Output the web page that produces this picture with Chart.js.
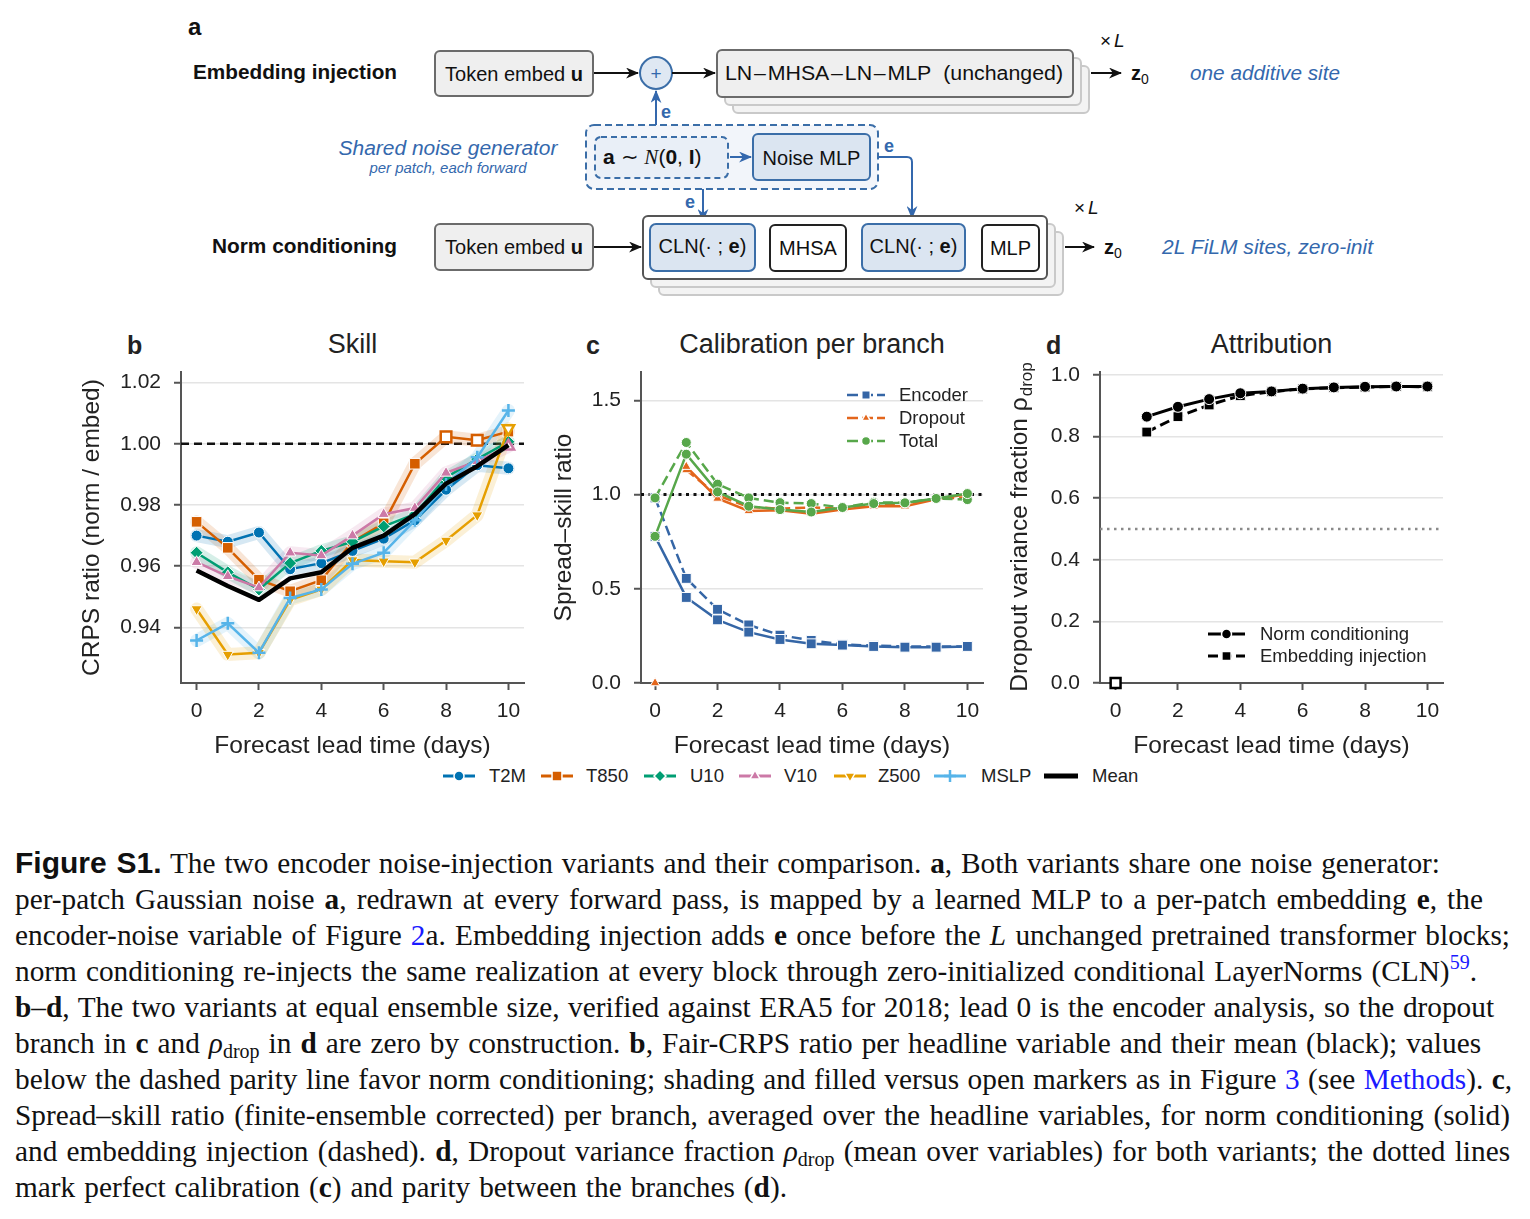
<!DOCTYPE html>
<html>
<head>
<meta charset="utf-8">
<script src="https://cdn.jsdelivr.net/npm/chart.js@4/dist/chart.umd.min.js"></script>
<style>
  body { margin: 0; background: #fff; }
  #page { position: relative; width: 1530px; height: 1219px; overflow: hidden; font-family: "Liberation Sans", Arial, sans-serif; color: #222; }
  canvas.chart { position: absolute; }
  .ptitle { position: absolute; font-size: 27px; line-height: 30px; text-align: center; color: #222; }
  .pletter { position: absolute; font-size: 25px; font-weight: bold; line-height: 30px; color: #222; }
  .leg { position: absolute; font-size: 18.5px; line-height: 20px; color: #222; white-space: nowrap; }
  .leg canvas { position: absolute; }
  .leg span { position: absolute; white-space: nowrap; }
  #caption { position: absolute; left: 15px; top: 845px; font-family: "Liberation Serif", "Times New Roman", serif; font-size: 29.3px; line-height: 36px; color: #111; white-space: nowrap; }
  #caption > div { width: max-content; }
  #caption .fig { font-family: "Liberation Sans", Arial, sans-serif; font-weight: bold; font-size: 30px; }
  #caption .lnk { color: #1a1aff; }
  #caption sub { font-size: 20px; vertical-align: -5px; line-height: 0; }
  #caption sup { font-size: 20px; vertical-align: 12px; line-height: 0; }
</style>
</head>
<body>
<div id="page">

<svg width="1530" height="310" style="position:absolute;left:0;top:0" font-family="Liberation Sans, Arial, sans-serif">
  <defs>
    <marker id="ak" viewBox="0 0 12 10" refX="11" refY="5" markerWidth="13" markerHeight="11" markerUnits="userSpaceOnUse" orient="auto"><path d="M0,0 L12,5 L0,10 L3.5,5 z" fill="#111"/></marker>
    <marker id="ab" viewBox="0 0 12 10" refX="11" refY="5" markerWidth="13" markerHeight="11" markerUnits="userSpaceOnUse" orient="auto"><path d="M0,0 L12,5 L0,10 L3.5,5 z" fill="#3468ad"/></marker>
  </defs>
  <text x="188" y="35" font-size="24" font-weight="bold" fill="#111">a</text>

  <!-- row 1 -->
  <text x="193" y="79" font-size="20" font-weight="bold" fill="#111" textLength="204" lengthAdjust="spacingAndGlyphs">Embedding injection</text>
  <rect x="435" y="51" width="158" height="45" rx="5" fill="#efefef" stroke="#6b6b6b" stroke-width="2"/>
  <text x="514" y="81" font-size="20" text-anchor="middle" fill="#111">Token embed <tspan font-weight="bold">u</tspan></text>
  <line x1="594" y1="73" x2="638" y2="73" stroke="#111" stroke-width="2" marker-end="url(#ak)"/>
  <circle cx="656" cy="73" r="16" fill="#dfe8f3" stroke="#3b6ea8" stroke-width="2"/>
  <text x="656" y="80" font-size="19" text-anchor="middle" fill="#3468ad">+</text>
  <line x1="672" y1="73" x2="715" y2="73" stroke="#111" stroke-width="2" marker-end="url(#ak)"/>
  <rect x="733" y="66" width="356" height="47" rx="5" fill="#f3f3f3" stroke="#c9c9c9" stroke-width="2"/>
  <rect x="725" y="58" width="356" height="47" rx="5" fill="#f3f3f3" stroke="#c9c9c9" stroke-width="2"/>
  <rect x="717" y="50" width="356" height="47" rx="5" fill="#efefef" stroke="#6b6b6b" stroke-width="2"/>
  <text x="725" y="80" font-size="20" fill="#111" textLength="338" lengthAdjust="spacingAndGlyphs">LN&#8202;–&#8202;MHSA&#8202;–&#8202;LN&#8202;–&#8202;MLP&#160;&#160;(unchanged)</text>
  <text x="1100" y="47" font-size="19" fill="#111">×<tspan font-style="italic" dx="3">L</tspan></text>
  <line x1="1091" y1="73" x2="1121" y2="73" stroke="#111" stroke-width="2" marker-end="url(#ak)"/>
  <text x="1131" y="80" font-size="20" font-weight="bold" fill="#111">z<tspan font-size="14" font-weight="normal" dy="4">0</tspan></text>
  <text x="1190" y="80" font-size="20" font-style="italic" fill="#3468ad" textLength="150" lengthAdjust="spacingAndGlyphs">one additive site</text>

  <!-- noise generator -->
  <rect x="586" y="125" width="292" height="64" rx="8" fill="#f2f5fa" stroke="#3b6ea8" stroke-width="2" stroke-dasharray="7 4"/>
  <rect x="595" y="137" width="133" height="41" rx="6" fill="#e9eff7" stroke="#3b6ea8" stroke-width="2" stroke-dasharray="6 4"/>
  <text x="603" y="164" font-size="21" fill="#111"><tspan font-weight="bold">a</tspan> ∼ <tspan font-family="Liberation Serif, serif" font-style="italic">N</tspan>(<tspan font-weight="bold">0</tspan>, <tspan font-weight="bold">I</tspan>)</text>
  <line x1="730" y1="157" x2="751" y2="157" stroke="#3468ad" stroke-width="2" marker-end="url(#ab)"/>
  <rect x="753" y="134" width="117" height="46" rx="5" fill="#dbe5f1" stroke="#3b6ea8" stroke-width="2"/>
  <text x="811.5" y="165" font-size="20" text-anchor="middle" fill="#111">Noise MLP</text>
  <text x="884" y="152" font-size="18" font-weight="bold" fill="#3468ad">e</text>
  <path d="M878 157 H907 Q912 157 912 162 V218" fill="none" stroke="#3468ad" stroke-width="2" marker-end="url(#ab)"/>
  <line x1="656" y1="125" x2="656" y2="91" stroke="#3468ad" stroke-width="2" marker-end="url(#ab)"/>
  <text x="661" y="118" font-size="18" font-weight="bold" fill="#3468ad">e</text>
  <line x1="703" y1="189" x2="703" y2="221" stroke="#3468ad" stroke-width="2" marker-end="url(#ab)"/>
  <text x="685" y="208" font-size="18" font-weight="bold" fill="#3468ad">e</text>
  <text x="448" y="155" font-size="20" font-style="italic" text-anchor="middle" fill="#3468ad" textLength="219" lengthAdjust="spacingAndGlyphs">Shared noise generator</text>
  <text x="448" y="173" font-size="14" font-style="italic" text-anchor="middle" fill="#3468ad" textLength="157" lengthAdjust="spacingAndGlyphs">per patch, each forward</text>

  <!-- row 2 -->
  <text x="212" y="253" font-size="20" font-weight="bold" fill="#111" textLength="185" lengthAdjust="spacingAndGlyphs">Norm conditioning</text>
  <rect x="435" y="224" width="158" height="46" rx="5" fill="#efefef" stroke="#6b6b6b" stroke-width="2"/>
  <text x="514" y="254" font-size="20" text-anchor="middle" fill="#111">Token embed <tspan font-weight="bold">u</tspan></text>
  <line x1="594" y1="247" x2="641" y2="247" stroke="#111" stroke-width="2" marker-end="url(#ak)"/>
  <rect x="659" y="232" width="404" height="63" rx="5" fill="#f3f3f3" stroke="#c9c9c9" stroke-width="2"/>
  <rect x="651" y="224" width="404" height="63" rx="5" fill="#f3f3f3" stroke="#c9c9c9" stroke-width="2"/>
  <rect x="643" y="216" width="404" height="63" rx="5" fill="#fff" stroke="#555" stroke-width="2"/>
  <rect x="650" y="224" width="105" height="47" rx="6" fill="#dbe5f1" stroke="#3b6ea8" stroke-width="2"/>
  <text x="702.5" y="253" font-size="20" text-anchor="middle" fill="#111">CLN(· ; <tspan font-weight="bold">e</tspan>)</text>
  <rect x="770" y="225" width="76" height="46" rx="5" fill="#fff" stroke="#222" stroke-width="2"/>
  <text x="808" y="255" font-size="20" text-anchor="middle" fill="#111">MHSA</text>
  <rect x="862" y="224" width="103" height="47" rx="6" fill="#dbe5f1" stroke="#3b6ea8" stroke-width="2"/>
  <text x="913.5" y="253" font-size="20" text-anchor="middle" fill="#111">CLN(· ; <tspan font-weight="bold">e</tspan>)</text>
  <rect x="982" y="225" width="57" height="46" rx="5" fill="#fff" stroke="#222" stroke-width="2"/>
  <text x="1010.5" y="255" font-size="20" text-anchor="middle" fill="#111">MLP</text>
  <text x="1074" y="214" font-size="19" fill="#111">×<tspan font-style="italic" dx="3">L</tspan></text>
  <line x1="1065" y1="247" x2="1094" y2="247" stroke="#111" stroke-width="2" marker-end="url(#ak)"/>
  <text x="1104" y="254" font-size="20" font-weight="bold" fill="#111">z<tspan font-size="14" font-weight="normal" dy="4">0</tspan></text>
  <text x="1162" y="254" font-size="20" font-style="italic" fill="#3468ad" textLength="211" lengthAdjust="spacingAndGlyphs">2L FiLM sites, zero-init</text>
</svg>

<div class="pletter" style="left:127px;top:330px">b</div>
<div class="pletter" style="left:586px;top:330px">c</div>
<div class="pletter" style="left:1046px;top:330px">d</div>
<div class="ptitle" style="left:181px;width:343px;top:329px">Skill</div>
<div class="ptitle" style="left:641px;width:342px;top:329px">Calibration per branch</div>
<div class="ptitle" style="left:1100px;width:343px;top:329px">Attribution</div>

<canvas id="skill_chart" class="chart" width="475" height="410" style="left:60px;top:355px"></canvas>
<canvas id="calib_chart" class="chart" width="460" height="410" style="left:535px;top:355px"></canvas>
<canvas id="attr_chart" class="chart" width="460" height="410" style="left:995px;top:355px"></canvas>

<div id="legends"></div>

<div id="caption">
<div><span class="fig">Figure S1.</span> The two encoder noise-injection variants and their comparison. <b>a</b>, Both variants share one noise generator:</div>
<div>per-patch Gaussian noise <b>a</b>, redrawn at every forward pass, is mapped by a learned MLP to a per-patch embedding <b>e</b>, the</div>
<div>encoder-noise variable of Figure <span class="lnk">2</span>a. Embedding injection adds <b>e</b> once before the <i>L</i> unchanged pretrained transformer blocks;</div>
<div>norm conditioning re-injects the same realization at every block through zero-initialized conditional LayerNorms (CLN)<sup class="lnk">59</sup>.</div>
<div><b>b</b>–<b>d</b>, The two variants at equal ensemble size, verified against ERA5 for 2018; lead 0 is the encoder analysis, so the dropout</div>
<div>branch in <b>c</b> and <i>ρ</i><sub>drop</sub> in <b>d</b> are zero by construction. <b>b</b>, Fair-CRPS ratio per headline variable and their mean (black); values</div>
<div>below the dashed parity line favor norm conditioning; shading and filled versus open markers as in Figure <span class="lnk">3</span> (see <span class="lnk">Methods</span>). <b>c</b>,</div>
<div>Spread–skill ratio (finite-ensemble corrected) per branch, averaged over the headline variables, for norm conditioning (solid)</div>
<div>and embedding injection (dashed). <b>d</b>, Dropout variance fraction <i>ρ</i><sub>drop</sub> (mean over variables) for both variants; the dotted lines</div>
<div>mark perfect calibration (<b>c</b>) and parity between the branches (<b>d</b>).</div>
</div>

</div>

<script>
// lead times (days)
const leadDays = [0, 1, 2, 3, 4, 5, 6, 7, 8, 9, 10];
const xTicks = [0, 2, 4, 6, 8, 10];

// b: CRPS ratio (norm / embed)
const t2m  = [0.970, 0.968, 0.971, 0.959, 0.961, 0.965, 0.969, 0.975, 0.985, 0.993, 0.992];
const t850 = [0.9745, 0.966, 0.9556, 0.9518, 0.9554, 0.968, 0.974, 0.9935, 1.0023, 1.0012, 1.004];
const u10  = [0.9644, 0.958, 0.9524, 0.961, 0.965, 0.968, 0.973, 0.977, 0.989, 0.995, 1.0007];
const v10  = [0.9613, 0.9567, 0.953, 0.9644, 0.9635, 0.970, 0.977, 0.979, 0.9905, 0.9943, 0.9992];
const z500 = [0.946, 0.9311, 0.9317, 0.949, 0.9524, 0.962, 0.9616, 0.9613, 0.9684, 0.9767, 1.005];
const mslp = [0.9357, 0.9413, 0.9317, 0.9496, 0.9524, 0.9608, 0.9644, 0.975, 0.9867, 0.9956, 1.0109];
const meanRatio = [0.9586, 0.9535, 0.949, 0.956, 0.958, 0.966, 0.970, 0.977, 0.987, 0.9927, 0.9996];
const ticksB = [0.94, 0.96, 0.98, 1.00, 1.02];
const parityB = 1.0;

// c: spread-skill ratio per branch (solid = norm conditioning, dashed = embedding injection)
const encNorm  = [0.778, 0.454, 0.335, 0.270, 0.231, 0.208, 0.201, 0.194, 0.190, 0.190, 0.194];
const encEmbed = [0.982, 0.555, 0.391, 0.308, 0.254, 0.226, 0.205, 0.198, 0.194, 0.194, 0.194];
const dropNorm  = [null, 1.148, 0.979, 0.913, 0.916, 0.898, 0.920, 0.938, 0.938, 0.975, 1.002];
const dropEmbed = [null, 1.130, 0.996, 0.934, 0.925, 0.931, 0.925, 0.947, 0.943, 0.979, 0.984];
const dropLead0 = 0.0;
const totNorm  = [0.778, 1.214, 1.014, 0.938, 0.920, 0.907, 0.931, 0.952, 0.956, 0.979, 1.005];
const totEmbed = [0.982, 1.276, 1.055, 0.982, 0.957, 0.952, 0.931, 0.959, 0.956, 0.979, 0.973];
const ticksC = [0.0, 0.5, 1.0, 1.5];
const perfectC = 1.0;

// d: dropout variance fraction
const fracNorm  = [null, 0.865, 0.897, 0.922, 0.941, 0.947, 0.956, 0.960, 0.962, 0.963, 0.963];
const fracEmbed = [null, 0.815, 0.865, 0.903, 0.933, 0.946, 0.955, 0.959, 0.961, 0.963, 0.962];
const fracLead0 = 0.0;
const ticksD = [0.0, 0.2, 0.4, 0.6, 0.8, 1.0];
const parityD = 0.5;

// caption line right edges (px)
const captionRight = [1440, 1483, 1510, 1477, 1494, 1481, 1512, 1510, 1510, 787];

const FONT = '"Liberation Sans", Arial, sans-serif';
Chart.defaults.font.family = FONT;
Chart.defaults.color = '#222';

const pts = (arr) => leadDays.map((d, i) => ({ x: d, y: arr[i] }));

const hexA = (hex, a) => {
	const n = parseInt(hex.slice(1), 16);
	return 'rgba(' + (n >> 16) + ',' + ((n >> 8) & 255) + ',' + (n & 255) + ',' + a + ')';
};

function drawMarker(ctx, style, x, y, r, fill, stroke, bw, rot) {
	ctx.save();
	ctx.fillStyle = fill;
	ctx.strokeStyle = stroke;
	ctx.lineWidth = bw;
	Chart.helpers.drawPoint(ctx, { pointStyle: style, radius: r, rotation: rot || 0, borderWidth: bw }, x, y);
	ctx.restore();
}

// horizontal reference line
const refLine = {
	id: 'refLine',
	beforeDatasetsDraw(chart, args, o) {
		if (!o || o.value === undefined) return;
		const { ctx, chartArea } = chart;
		const y = chart.scales.y.getPixelForValue(o.value);
		ctx.save();
		ctx.strokeStyle = o.color;
		ctx.lineWidth = o.width;
		ctx.setLineDash(o.dash);
		ctx.beginPath();
		ctx.moveTo(chartArea.left, y);
		ctx.lineTo(chartArea.right, y);
		ctx.stroke();
		ctx.restore();
	}
};

function makeScales(o) {
	return {
		x: {
			type: 'linear', min: o.xMin, max: o.xMax,
			afterBuildTicks: (s) => { s.ticks = xTicks.map(v => ({ value: v })); },
			afterFit: (s) => { s.height = 82; s.paddingLeft = 0; s.paddingRight = 0; },
			ticks: { font: { size: 21 }, padding: 8.5, maxRotation: 0, color: '#222', callback: (v) => String(v) },
			grid: { drawOnChartArea: false, drawTicks: true, tickLength: 7, tickColor: '#555', tickWidth: 2 },
			border: { color: '#555', width: 2 },
			title: { display: true, text: 'Forecast lead time (days)', font: { size: 24.5 }, color: '#222', padding: { top: 0, bottom: 4 } }
		},
		y: {
			min: o.yMin, max: o.yMax,
			afterBuildTicks: (s) => { s.ticks = o.yTicks.map(v => ({ value: v })); },
			afterFit: (s) => { s.width = o.yWidth; s.paddingTop = 0; s.paddingBottom = 0; },
			ticks: { font: { size: 21 }, padding: 13, color: '#222', callback: (v) => Number(v).toFixed(o.dec) },
			grid: { color: '#e4e4e4', lineWidth: 1.5, tickLength: 7, tickColor: '#555', tickWidth: 2 },
			border: { color: '#555', width: 2 },
			title: o.yTitle ? { display: true, text: o.yTitle, font: { size: 24.5 }, color: '#222', padding: { top: o.yTitlePad, bottom: 0 } } : { display: false }
		}
	};
}

function baseOptions(scales, padRight, ref) {
	return {
		responsive: false,
		animation: false,
		devicePixelRatio: 1,
		events: [],
		layout: { padding: { top: 17, right: padRight, left: 0, bottom: 0 } },
		scales: scales,
		plugins: { legend: { display: false }, tooltip: { enabled: false }, refLine: ref }
	};
}

// ---------- b: Skill ----------
window.skill_chart = () => {
	const series = [
		{ label: 'T2M',  data: t2m,  color: '#0072B2', style: 'circle',   r: 5.5, rot: 0,   open: [] },
		{ label: 'T850', data: t850, color: '#D55E00', style: 'rect',     r: 7.5, rot: 0,   open: [8, 9] },
		{ label: 'U10',  data: u10,  color: '#009E73', style: 'rectRot',  r: 6.5, rot: 0,   open: [] },
		{ label: 'V10',  data: v10,  color: '#CC79A7', style: 'triangle', r: 6.5, rot: 0,   open: [10] },
		{ label: 'Z500', data: z500, color: '#E69F00', style: 'triangle', r: 6.5, rot: 180, open: [10] },
		{ label: 'MSLP', data: mslp, color: '#56B4E9', style: 'cross',    r: 6.5, rot: 0,   open: [] }
	];
	const datasets = [];
	series.forEach((s) => {
		datasets.push({
			data: pts(s.data), borderColor: hexA(s.color, 0.16), borderWidth: 13,
			borderJoinStyle: 'round', borderCapStyle: 'round', pointRadius: 0, order: 20, tension: 0
		});
	});
	series.forEach((s, k) => {
		const isCross = s.style === 'cross';
		datasets.push({
			label: s.label, data: pts(s.data), borderColor: s.color, borderWidth: 2.5, tension: 0, order: 10 - k,
			pointStyle: s.style, pointRadius: s.r, pointRotation: s.rot,
			pointBackgroundColor: (c) => s.open.includes(c.dataIndex) ? '#ffffff' : s.color,
			pointBorderColor: (c) => (isCross || s.open.includes(c.dataIndex)) ? s.color : '#ffffff',
			pointBorderWidth: (c) => (isCross || s.open.includes(c.dataIndex)) ? 2.5 : 1
		});
	});
	datasets.push({ label: 'Mean', data: pts(meanRatio), borderColor: '#000', borderWidth: 4.5, pointRadius: 0, tension: 0, order: 1, borderJoinStyle: 'round' });

	const scales = makeScales({ xMin: -0.5, xMax: 10.5, yMin: 0.9218, yMax: 1.0235, yTicks: ticksB, dec: 2, yWidth: 121,
		yTitle: 'CRPS ratio (norm / embed)', yTitlePad: 18 });
	new Chart(document.getElementById('skill_chart'), {
		type: 'line',
		data: { datasets: datasets },
		options: baseOptions(scales, 11, { value: parityB, color: '#111', width: 2.5, dash: [8, 5] }),
		plugins: [refLine]
	});
};

// ---------- c: Calibration per branch ----------
window.calib_chart = () => {
	const blue = '#3566a6', orange = '#e3661c', green = '#57a74a';
	const mk = (data, color, style, r, dash) => ({
		data: pts(data), borderColor: color, borderWidth: 2.5, borderDash: dash, tension: 0,
		pointStyle: style, pointRadius: r, pointBackgroundColor: color, pointBorderColor: '#fff', pointBorderWidth: 1
	});
	// earlier entries are drawn on top
	const datasets = [
		mk(totNorm, green, 'circle', 5, []),
		mk(totEmbed, green, 'circle', 5, [10, 5]),
		mk(dropNorm, orange, 'triangle', 5.5, []),
		mk(dropEmbed, orange, 'triangle', 5.5, [10, 5]),
		mk(encNorm, blue, 'rect', 7, []),
		mk(encEmbed, blue, 'rect', 7, [10, 5]),
		{ data: [{ x: leadDays[0], y: dropLead0 }], showLine: false, clip: false, pointStyle: 'triangle', pointRadius: 5.5,
			pointBackgroundColor: orange, pointBorderColor: '#fff', pointBorderWidth: 1 }
	];
	const scales = makeScales({ xMin: -0.45, xMax: 10.5, yMin: 0, yMax: 1.65, yTicks: ticksC, dec: 1, yWidth: 106,
		yTitle: 'Spread\u2013skill ratio', yTitlePad: 15 });
	new Chart(document.getElementById('calib_chart'), {
		type: 'line',
		data: { datasets: datasets },
		options: baseOptions(scales, 12, { value: perfectC, color: '#111', width: 3, dash: [3, 4.5] }),
		plugins: [refLine]
	});
};

// ---------- d: Attribution ----------
window.attr_chart = () => {
	const datasets = [
		{ data: [{ x: leadDays[0], y: fracLead0 }], showLine: false, clip: false, pointStyle: 'rect', pointRadius: 7,
			pointBackgroundColor: '#fff', pointBorderColor: '#000', pointBorderWidth: 2.5 },
		{ data: pts(fracNorm), borderColor: '#000', borderWidth: 3, tension: 0,
			pointStyle: 'circle', pointRadius: 5.5, pointBackgroundColor: '#000', pointBorderColor: '#fff', pointBorderWidth: 1 },
		{ data: pts(fracEmbed), borderColor: '#000', borderWidth: 3, borderDash: [10, 5], tension: 0,
			pointStyle: 'rect', pointRadius: 7, pointBackgroundColor: '#000', pointBorderColor: '#fff', pointBorderWidth: 1 }
	];
	const scales = makeScales({ xMin: -0.5, xMax: 10.5, yMin: 0, yMax: 1.01, yTicks: ticksD, dec: 1, yWidth: 105, yTitle: null });
	const rhoTitle = {
		id: 'rhoTitle',
		afterDraw(chart) {
			const { ctx, chartArea } = chart;
			const main = 'Dropout variance fraction \u03c1';
			const sub = 'drop';
			ctx.save();
			ctx.fillStyle = '#222';
			ctx.font = '24.5px ' + FONT;
			const w1 = ctx.measureText(main).width;
			ctx.font = '17px ' + FONT;
			const w2 = ctx.measureText(sub).width;
			ctx.translate(25, (chartArea.top + chartArea.bottom) / 2);
			ctx.rotate(-Math.PI / 2);
			ctx.textBaseline = 'middle';
			ctx.textAlign = 'left';
			const x0 = -(w1 + w2) / 2;
			ctx.font = '24.5px ' + FONT;
			ctx.fillText(main, x0, 0);
			ctx.font = '17px ' + FONT;
			ctx.fillText(sub, x0 + w1 + 1, 7);
			ctx.restore();
		}
	};
	new Chart(document.getElementById('attr_chart'), {
		type: 'line',
		data: { datasets: datasets },
		options: baseOptions(scales, 12, { value: parityD, color: '#8a8a8a', width: 2.5, dash: [2.5, 4.5] }),
		plugins: [refLine, rhoTitle]
	});
};

// ---------- legends ----------
function legendItem(parent, left, top, w, spec, label, textLeft) {
	const box = document.createElement('div');
	box.className = 'leg';
	box.style.left = left + 'px';
	box.style.top = (top - 10) + 'px';
	const c = document.createElement('canvas');
	c.width = w; c.height = 20;
	c.style.left = '0px'; c.style.top = '0px';
	const ctx = c.getContext('2d');
	ctx.strokeStyle = spec.color;
	ctx.lineWidth = spec.lw;
	ctx.setLineDash(spec.dash || []);
	ctx.beginPath(); ctx.moveTo(0, 10); ctx.lineTo(w, 10); ctx.stroke();
	ctx.setLineDash([]);
	if (spec.style) {
		const isCross = spec.style === 'cross';
		drawMarker(ctx, spec.style, w / 2, 10, spec.r, spec.color, isCross ? spec.color : '#fff', isCross ? 2.5 : 1.5, spec.rot);
	}
	box.appendChild(c);
	const t = document.createElement('span');
	t.textContent = label;
	t.style.left = (textLeft - left) + 'px';
	t.style.top = '0px';
	box.appendChild(t);
	parent.appendChild(box);
}

window.draw_legends = () => {
	const p = document.getElementById('legends');
	// bottom shared legend
	legendItem(p, 443, 776, 32, { color: '#0072B2', lw: 3, style: 'circle', r: 5 }, 'T2M', 489);
	legendItem(p, 541, 776, 32, { color: '#D55E00', lw: 3, style: 'rect', r: 7 }, 'T850', 586);
	legendItem(p, 644, 776, 32, { color: '#009E73', lw: 3, style: 'rectRot', r: 6 }, 'U10', 690);
	legendItem(p, 739, 776, 32, { color: '#CC79A7', lw: 3, style: 'triangle', r: 6 }, 'V10', 784);
	legendItem(p, 834, 776, 32, { color: '#E69F00', lw: 3, style: 'triangle', r: 6, rot: 180 }, 'Z500', 878);
	legendItem(p, 934, 776, 32, { color: '#56B4E9', lw: 3, style: 'cross', r: 6 }, 'MSLP', 981);
	legendItem(p, 1044, 776, 34, { color: '#000', lw: 5 }, 'Mean', 1092);
	// c legend
	legendItem(p, 847, 395, 38, { color: '#3566a6', lw: 2.5, dash: [11, 4], style: 'rect', r: 6 }, 'Encoder', 899);
	legendItem(p, 847, 418, 38, { color: '#e3661c', lw: 2.5, dash: [11, 4], style: 'triangle', r: 5 }, 'Dropout', 899);
	legendItem(p, 847, 441, 38, { color: '#57a74a', lw: 2.5, dash: [11, 4], style: 'circle', r: 4.5 }, 'Total', 899);
	// d legend
	legendItem(p, 1208, 634, 37, { color: '#000', lw: 3, style: 'circle', r: 5 }, 'Norm conditioning', 1260);
	legendItem(p, 1208, 656, 37, { color: '#000', lw: 3, dash: [10, 4], style: 'rect', r: 6.5 }, 'Embedding injection', 1260);
};

// stretch each caption line to its right edge through word spacing
window.fit_caption = () => {
	const lines = document.querySelectorAll('#caption > div');
	lines.forEach((d, i) => {
		const w = d.getBoundingClientRect().width;
		const spaces = (d.textContent.match(/ /g) || []).length;
		if (spaces > 0) d.style.wordSpacing = ((captionRight[i] - 15 - w) / spaces).toFixed(2) + 'px';
	});
};

skill_chart();
calib_chart();
attr_chart();
draw_legends();
fit_caption();
</script>
</body>
</html>
